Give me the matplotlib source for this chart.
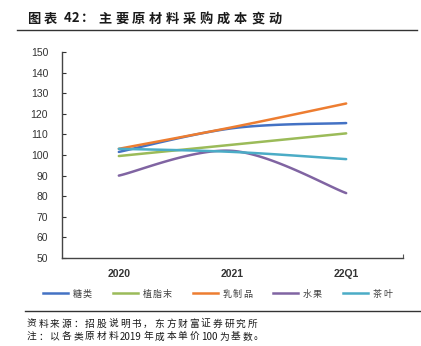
import numpy as np
import matplotlib
matplotlib.use("Agg")
import matplotlib.pyplot as plt
from matplotlib.lines import Line2D

plt.rcParams['font.family'] = ['Noto Sans CJK SC', 'DejaVu Sans']

periods = ["2020", "2021", "22Q1"]
sugar = [101.5, 113.0, 115.5]
creamer = [99.5, 105.0, 110.5]
dairy = [103.0, 113.5, 125.0]
fruit = [90.0, 102.0, 81.5]
tea = [103.0, 101.5, 98.0]

series_names = ["糖类", "植脂末", "乳制品", "水果", "茶叶"]
series_values = [sugar, creamer, dairy, fruit, tea]
colors = ["#4472C4", "#9BBB59", "#ED7D31", "#8064A2", "#4BACC6"]

y_ticks = list(range(50, 151, 10))

W, H = 421, 346


def smooth(xs, ys, n=40):
    """Catmull-Rom style Bezier smoothing through the given points."""
    pts = np.column_stack([np.asarray(xs, float), np.asarray(ys, float)])
    out = []
    for i in range(len(pts) - 1):
        p0 = pts[i - 1] if i > 0 else pts[i]
        p1 = pts[i]
        p2 = pts[i + 1]
        p3 = pts[i + 2] if i + 2 < len(pts) else pts[i + 1]
        c1 = p1 + (p2 - p0) / 6.0
        c2 = p2 - (p3 - p1) / 6.0
        t = np.linspace(0, 1, n)[:, None]
        seg = ((1 - t) ** 3) * p1 + 3 * ((1 - t) ** 2) * t * c1 + 3 * (1 - t) * t ** 2 * c2 + t ** 3 * p2
        out.append(seg if i == 0 else seg[1:])
    seg = np.vstack(out)
    return seg[:, 0], seg[:, 1]


def spaced_text(fig, x_px, base_px, text, pitch, **kw):
    """Draw text on a common baseline with a fixed advance per wide character;
    ASCII runs keep their natural width."""
    renderer = fig.canvas.get_renderer()
    x = x_px
    i = 0
    while i < len(text):
        ch = text[i]
        if ord(ch) > 127:
            fig.text(x / W, 1 - base_px / H, ch, ha='left', va='baseline', **kw)
            x += pitch
            i += 1
        else:
            j = i
            while j < len(text) and ord(text[j]) <= 127:
                j += 1
            run = text[i:j]
            t = fig.text(x / W, 1 - base_px / H, run, ha='left', va='baseline', **kw)
            bb = t.get_window_extent(renderer)
            x += bb.width + 1.5
            i = j
    return x


fig = plt.figure(figsize=(W / 100, H / 100), dpi=100)

# header
spaced_text(fig, 27, 22.5, "图表 42：主要原材料采购成本变动", 17.0, fontsize=9.5,
            fontweight='bold', color="#1a1a1a")
fig.add_artist(Line2D([17 / W, 417 / W], [1 - 30 / H, 1 - 30 / H], color="#333333", lw=1.0))

ax = fig.add_axes([62 / W, 1 - 258 / H, (403 - 62) / W, (258 - 52) / H])
x = np.arange(len(periods))
for name, vals, c in zip(series_names, series_values, colors):
    sx, sy = smooth(x, vals)
    ax.plot(sx, sy, color=c, lw=1.8, label=name, solid_capstyle='round')

ax.set_xlim(-0.5, len(periods) - 0.5)
ax.set_ylim(50, 150)
ax.set_yticks(y_ticks)
ax.set_xticks(x)
ax.set_xticks([len(periods) - 0.5], minor=True)
ax.set_xticklabels(periods, fontsize=7.5, color="#333333", fontfamily='Liberation Sans',
                   fontweight='bold')
ax.set_yticklabels([str(v) for v in y_ticks], fontsize=7.5, color="#333333",
                   fontfamily='Liberation Sans')
ax.tick_params(axis='x', which='major', length=0, pad=8)
ax.tick_params(axis='x', which='minor', direction='in', length=3, width=0.8, color="#555555")
ax.tick_params(axis='y', direction='in', length=3, width=0.8, color="#333333", pad=10)
for s in ['top', 'right']:
    ax.spines[s].set_visible(False)
for s in ['left', 'bottom']:
    ax.spines[s].set_color("#444444")
    ax.spines[s].set_linewidth(1.0)

# legend row
lx = 43.0
ly = 293.0
for name, c in zip(series_names, colors):
    fig.add_artist(Line2D([lx / W, (lx + 25) / W], [1 - ly / H, 1 - ly / H], color=c, lw=1.8))
    end = spaced_text(fig, lx + 30, ly + 3.5, name, 10.0, fontsize=6.5, color="#404040")
    lx = end + 20

fig.add_artist(Line2D([25 / W, 421 / W], [1 - 311 / H, 1 - 311 / H], color="#333333", lw=1.0))
spaced_text(fig, 27, 326.5, "资料来源：招股说明书，东方财富证券研究所", 11.6, fontsize=7,
            color="#1a1a1a")
spaced_text(fig, 27, 339.5, "注：以各类原材料2019年成本单价100为基数。", 11.6, fontsize=7,
            color="#1a1a1a")

fig.savefig("out.png", dpi=100)
